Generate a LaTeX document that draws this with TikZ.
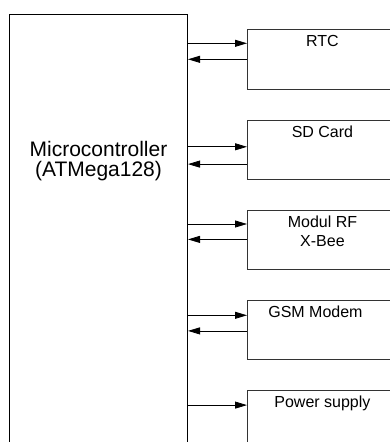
\documentclass[tikz,border=0pt]{standalone}
\usepackage{fontspec}
\setmainfont{Liberation Sans}
\usetikzlibrary{positioning, arrows.meta}

\begin{document}
\begin{tikzpicture}[
        x=1pt, y=1pt,
        >={Triangle[length=12pt,width=7pt]},
        % boxes on the right are stacked 30pt apart
        node distance=30pt,
        font=\fontsize{16}{19.3}\selectfont
    ]
        % Define node styles
        \tikzstyle{blk}=[
            draw=black!80,
            line width=0.9pt,
            minimum width=150pt,
            minimum height=59.3pt,
            inner sep=0pt
        ]
        \tikzstyle{lbl}=[anchor=north, inner sep=0pt, align=center, yshift=-6pt]
        \tikzstyle{flow}=[->, line width=0.8pt]

        \useasboundingbox (0,0) rectangle (390,-442);
        \clip (0,0) rectangle (390,-442);

        % --- Microcontroller (runs off the bottom) ---
        \node[draw, line width=1pt, minimum width=178pt, minimum height=480pt,
              anchor=north west, inner sep=0pt] (mcu) at (9,-14) {};
        \node[anchor=north, inner sep=0pt, align=center,
              font=\fontsize{21}{20.5}\selectfont, yshift=-127pt] (mcutxt) at (mcu.north)
              {Microcontroller\\(ATMega128)};

        % --- Peripherals (run off the right edge) ---
        \node[blk, anchor=north west] (rtc) at (247,-29.3) {};
        \node[blk, below=of rtc] (sd) {};
        \node[blk, below=of sd] (rf) {};
        \node[blk, below=of rf] (gsm) {};
        \node[blk, below=of gsm] (pwr) {};

        \node[lbl] (rtclbl) at (rtc.north) {RTC};
        \node[lbl] (sdlbl) at (sd.north) {SD Card};
        \node[lbl] (rflbl) at (rf.north) {Modul RF\\X-Bee};
        \node[lbl, xshift=-7pt] (gsmlbl) at (gsm.north) {GSM Modem};
        \node[lbl] (pwrlbl) at (pwr.north) {Power supply};

        % --- Connection points on the peripherals ---
        \coordinate (rtcout) at ([yshift=-14pt]rtc.north west);
        \coordinate (rtcin) at ([yshift=-30pt]rtc.north west);
        \coordinate (sdout) at ([yshift=-27.3pt]sd.north west);
        \coordinate (sdin) at ([yshift=-44.6pt]sd.north west);
        \coordinate (rfout) at ([yshift=-14.3pt]rf.north west);
        \coordinate (rfin) at ([yshift=-29.7pt]rf.north west);
        \coordinate (gsmout) at ([yshift=-15.4pt]gsm.north west);
        \coordinate (gsmin) at ([yshift=-31pt]gsm.north west);
        \coordinate (pwrout) at ([yshift=-15pt]pwr.north west);

        % --- Links ---
        \draw[flow] (rtcout -| mcu.east) -- (rtcout);
        \draw[flow] (rtcin) -- (rtcin -| mcu.east);
        \draw[flow] (sdout -| mcu.east) -- (sdout);
        \draw[flow] (sdin) -- (sdin -| mcu.east);
        \draw[flow] (rfout -| mcu.east) -- (rfout);
        \draw[flow] (rfin) -- (rfin -| mcu.east);
        \draw[flow] (gsmout -| mcu.east) -- (gsmout);
        \draw[flow] (gsmin) -- (gsmin -| mcu.east);
        \draw[flow] (pwrout -| mcu.east) -- (pwrout);

    \end{tikzpicture}
\end{document}
